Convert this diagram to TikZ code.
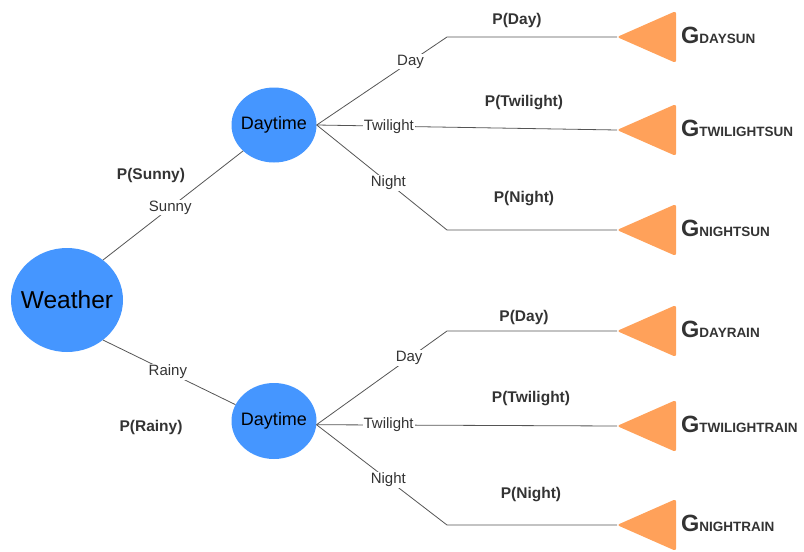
\documentclass[tikz,border=0pt]{standalone}
\usepackage{fontspec}
\setmainfont{Liberation Sans}
\usetikzlibrary{shapes.geometric}
\definecolor{nodeblue}{HTML}{4596FF}
\definecolor{goalorange}{HTML}{FFA15A}
\definecolor{linegray}{HTML}{555555}
\definecolor{textgray}{HTML}{333333}

\begin{document}
\begin{tikzpicture}[x=1pt,y=-1pt,
    chance/.style={ellipse,fill=nodeblue,inner sep=0pt},
    edge/.style={linegray,line width=0.8pt},
    lbl/.style={fill=white,inner sep=1pt,text=textgray,font=\fontsize{15}{15}\selectfont},
    prob/.style={text=textgray,font=\bfseries\fontsize{15.5}{15.5}\selectfont},
    goal/.style={fill=goalorange,rounded corners=2.5pt},
    goallbl/.style={anchor=base west,inner sep=0pt,text=textgray,font=\bfseries}]

\useasboundingbox (0,0) rectangle (804,552);

\node[chance,minimum width=112pt,minimum height=104pt,
    label={[font=\fontsize{24.5}{24.5}\selectfont]center:Weather}] (weather) at (67,300) {};
\node[chance,minimum width=85pt,minimum height=75pt,
    label={[font=\fontsize{18}{18}\selectfont]center:Daytime}] (sunday) at (274,125) {};
\node[chance,minimum width=85pt,minimum height=76pt,
    label={[font=\fontsize{18}{18}\selectfont]center:Daytime}] (rainday) at (274,421) {};

\foreach \g/\y/\txt in {daysun/37/DAYSUN, twisun/130/TWILIGHTSUN, nightsun/230/NIGHTSUN,
    dayrain/331/DAYRAIN, twirain/426/TWILIGHTRAIN, nightrain/525/NIGHTRAIN}{
    \coordinate (\g) at (617,\y);
    \fill[goal] (\g) -- ++(59,-26) -- ++(0,52) -- cycle;
    \node[goallbl] (\g txt) at (681,{\y+6})
        {{\fontsize{23.5}{23.5}\selectfont G}\fontsize{13.5}{13.5}\selectfont\txt};
}

% first level
\draw[edge] (weather.48) -- node[lbl,pos=0.48] {Sunny} (sunday.220);
\draw[edge] (weather.-48) -- node[lbl,pos=0.49] {Rainy} (rainday.157);

\node[prob] (psunny) at (151,175) {P(Sunny)};
\node[prob] (prainy) at (151,427) {P(Rainy)};

% sunny branches
\draw[edge] (sunday.east) -- node[lbl,pos=0.72] {Day} ([xshift=-170pt]daysun) -- (daysun);
\draw[edge] (sunday.east) -- node[lbl,pos=0.24] {Twilight} (twisun);
\draw[edge] (sunday.east) -- node[lbl,pos=0.55] {Night} ([xshift=-170pt]nightsun) -- (nightsun);

\node[prob] (pdaysun) at (517,20) {P(Day)};
\node[prob] (ptwisun) at (524,103) {P(Twilight)};
\node[prob] (pnightsun) at (524,199) {P(Night)};

% rainy branches
\draw[edge] (rainday.-5) -- node[lbl,pos=0.71] {Day} ([xshift=-170pt]dayrain) -- (dayrain);
\draw[edge] (rainday.-5) -- node[lbl,pos=0.24] {Twilight} (twirain);
\draw[edge] (rainday.-5) -- node[lbl,pos=0.55] {Night} ([xshift=-170pt]nightrain) -- (nightrain);

\node[prob] (pdayrain) at (524,317) {P(Day)};
\node[prob] (ptwirain) at (531,399) {P(Twilight)};
\node[prob] (pnightrain) at (531,495) {P(Night)};

\end{tikzpicture}
\end{document}
